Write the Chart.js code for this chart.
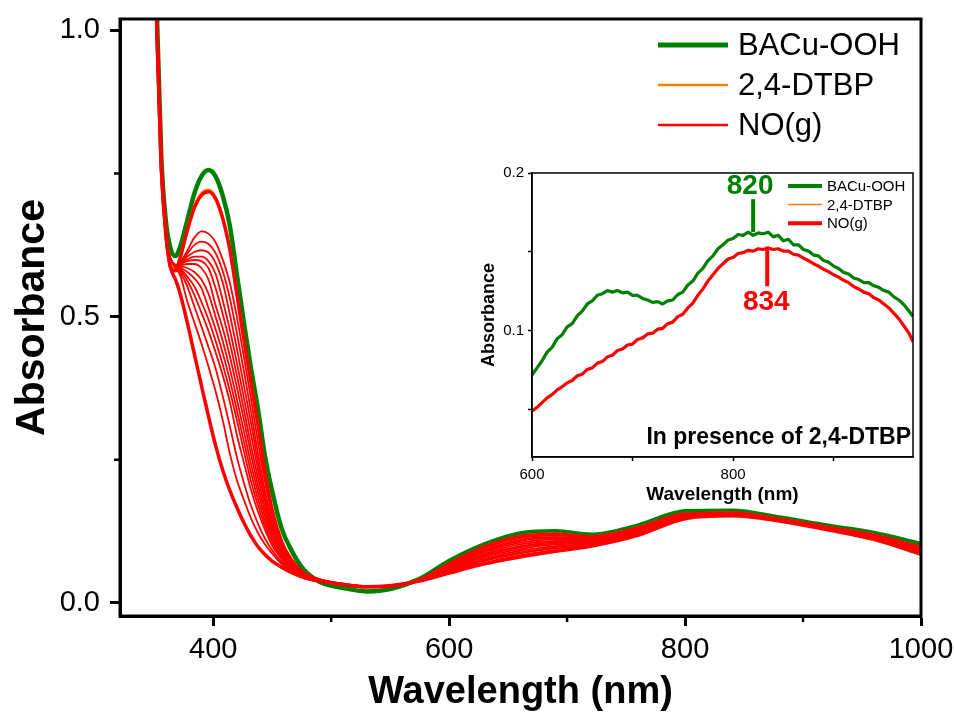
<!DOCTYPE html>
<html>
<head>
<meta charset="utf-8">
<script src="https://cdn.jsdelivr.net/npm/chart.js@4.4.1/dist/chart.umd.min.js"></script>
<style>
  html, body { margin: 0; padding: 0; background: #fff; }
  #wrap { position: relative; width: 954px; height: 713px; }
  #main { position: absolute; left: 0; top: 0; }
  #inset { position: absolute; left: 480px; top: 160px; }
</style>
</head>
<body>
<div id="wrap">
  <canvas id="main" width="954" height="713"></canvas>
  <canvas id="inset" width="440" height="350"></canvas>
</div>
<script>
// =====================================================
// DATA: main spectra (wavelength grid shared by all scans)
// =====================================================
const wavelengths = [348, 352, 356, 360, 364, 368, 372, 378, 384, 390, 396, 402, 408, 414, 420, 426, 432, 438, 444, 450,
                     458, 466, 476, 490, 510, 530, 550, 575, 600, 630, 660, 690, 720, 760, 800, 840, 880, 920, 960, 1000];

const bacuOOH = [1.36, 1.05, 0.78, 0.665, 0.618, 0.606, 0.622, 0.668, 0.715, 0.745, 0.756, 0.745, 0.712, 0.66, 0.575, 0.49, 0.41, 0.338, 0.255, 0.195,
                 0.13, 0.093, 0.06, 0.037, 0.026, 0.02, 0.024, 0.042, 0.073, 0.102, 0.121, 0.125, 0.119, 0.135, 0.160, 0.161, 0.149, 0.135, 0.122, 0.103];
const dtbp    = [1.34, 1.03, 0.767, 0.648, 0.59, 0.585, 0.607, 0.654, 0.694, 0.716, 0.722, 0.71, 0.676, 0.621, 0.543, 0.462, 0.387, 0.312, 0.23, 0.164,
                 0.108, 0.077, 0.054, 0.041, 0.032, 0.028, 0.029, 0.041, 0.069, 0.099, 0.117, 0.121, 0.116, 0.132, 0.156, 0.158, 0.147, 0.133, 0.119, 0.098];
const noFirst = [1.34, 1.03, 0.765, 0.645, 0.585, 0.58, 0.603, 0.65, 0.69, 0.712, 0.718, 0.706, 0.672, 0.618, 0.54, 0.46, 0.385, 0.31, 0.228, 0.162,
                 0.107, 0.076, 0.053, 0.04, 0.032, 0.028, 0.029, 0.04, 0.068, 0.098, 0.116, 0.12, 0.115, 0.131, 0.155, 0.157, 0.146, 0.132, 0.118, 0.097];
const no01 = [1.33, 1.02, 0.76, 0.64, 0.60, 0.59, 0.595, 0.615, 0.638, 0.649, 0.645, 0.63, 0.60, 0.56, 0.50, 0.43, 0.357, 0.28, 0.21, 0.155,
              0.105, 0.075, 0.054, 0.041, 0.033, 0.029, 0.03, 0.04, 0.067, 0.096, 0.113, 0.118, 0.114, 0.130, 0.154, 0.157, 0.146, 0.132, 0.117, 0.096];
const no02 = [1.33, 1.02, 0.76, 0.64, 0.60, 0.59, 0.594, 0.61, 0.625, 0.631, 0.627, 0.611, 0.58, 0.533, 0.472, 0.405, 0.335, 0.26, 0.195, 0.145,
              0.10, 0.072, 0.053, 0.041, 0.033, 0.029, 0.03, 0.04, 0.066, 0.093, 0.110, 0.115, 0.113, 0.129, 0.154, 0.156, 0.146, 0.131, 0.117, 0.095];
const no03 = [1.33, 1.02, 0.76, 0.64, 0.60, 0.59, 0.593, 0.605, 0.613, 0.616, 0.612, 0.594, 0.56, 0.505, 0.445, 0.38, 0.315, 0.245, 0.185, 0.138,
              0.097, 0.07, 0.052, 0.04, 0.033, 0.029, 0.03, 0.04, 0.064, 0.091, 0.108, 0.113, 0.111, 0.128, 0.153, 0.156, 0.145, 0.131, 0.116, 0.094];
const no04 = [1.33, 1.02, 0.76, 0.64, 0.60, 0.59, 0.592, 0.60, 0.605, 0.605, 0.597, 0.575, 0.529, 0.478, 0.42, 0.358, 0.295, 0.232, 0.176, 0.132,
              0.094, 0.069, 0.051, 0.04, 0.032, 0.029, 0.03, 0.04, 0.063, 0.089, 0.105, 0.111, 0.110, 0.127, 0.153, 0.155, 0.145, 0.131, 0.116, 0.093];
const no05 = [1.33, 1.02, 0.76, 0.64, 0.60, 0.59, 0.592, 0.597, 0.599, 0.597, 0.585, 0.55, 0.505, 0.455, 0.398, 0.338, 0.275, 0.218, 0.167, 0.127,
              0.091, 0.067, 0.05, 0.04, 0.032, 0.029, 0.03, 0.04, 0.062, 0.086, 0.102, 0.108, 0.109, 0.126, 0.152, 0.155, 0.145, 0.130, 0.115, 0.092];
const no06 = [1.33, 1.02, 0.76, 0.64, 0.60, 0.59, 0.59, 0.592, 0.592, 0.585, 0.565, 0.52, 0.48, 0.432, 0.377, 0.32, 0.26, 0.205, 0.158, 0.121,
              0.088, 0.065, 0.049, 0.039, 0.032, 0.029, 0.03, 0.04, 0.061, 0.084, 0.099, 0.106, 0.108, 0.125, 0.151, 0.155, 0.145, 0.130, 0.115, 0.091];
const no07 = [1.33, 1.02, 0.76, 0.64, 0.60, 0.59, 0.588, 0.585, 0.578, 0.565, 0.54, 0.50, 0.458, 0.41, 0.356, 0.30, 0.243, 0.193, 0.15, 0.116,
              0.085, 0.063, 0.048, 0.039, 0.032, 0.029, 0.03, 0.04, 0.059, 0.082, 0.097, 0.104, 0.106, 0.124, 0.151, 0.154, 0.144, 0.130, 0.114, 0.091];
const no08 = [1.33, 1.02, 0.76, 0.64, 0.60, 0.59, 0.586, 0.578, 0.567, 0.55, 0.515, 0.478, 0.437, 0.39, 0.337, 0.282, 0.228, 0.181, 0.142, 0.111,
              0.082, 0.062, 0.047, 0.039, 0.032, 0.029, 0.03, 0.039, 0.058, 0.080, 0.094, 0.102, 0.105, 0.123, 0.150, 0.154, 0.144, 0.130, 0.114, 0.090];
const no09 = [1.33, 1.02, 0.76, 0.64, 0.60, 0.59, 0.584, 0.57, 0.553, 0.526, 0.495, 0.458, 0.417, 0.371, 0.32, 0.265, 0.213, 0.17, 0.134, 0.105,
              0.079, 0.06, 0.046, 0.038, 0.032, 0.029, 0.03, 0.039, 0.057, 0.077, 0.091, 0.099, 0.104, 0.122, 0.149, 0.154, 0.144, 0.129, 0.113, 0.089];
const no10 = [1.33, 1.02, 0.76, 0.64, 0.60, 0.59, 0.582, 0.563, 0.538, 0.507, 0.475, 0.438, 0.398, 0.352, 0.294, 0.245, 0.198, 0.159, 0.127, 0.10,
              0.076, 0.058, 0.045, 0.038, 0.031, 0.028, 0.03, 0.039, 0.056, 0.075, 0.088, 0.097, 0.103, 0.121, 0.149, 0.153, 0.144, 0.129, 0.113, 0.088];
const no11 = [1.33, 1.02, 0.76, 0.64, 0.60, 0.59, 0.578, 0.553, 0.518, 0.483, 0.447, 0.41, 0.362, 0.31, 0.255, 0.21, 0.17, 0.138, 0.112, 0.092,
              0.071, 0.056, 0.044, 0.037, 0.031, 0.028, 0.03, 0.039, 0.054, 0.073, 0.086, 0.095, 0.101, 0.120, 0.148, 0.153, 0.143, 0.129, 0.112, 0.087];
const no12 = [1.33, 1.02, 0.76, 0.64, 0.60, 0.585, 0.572, 0.527, 0.49, 0.453, 0.413, 0.37, 0.32, 0.262, 0.215, 0.18, 0.148, 0.122, 0.102, 0.086,
              0.068, 0.055, 0.044, 0.037, 0.031, 0.028, 0.03, 0.038, 0.053, 0.070, 0.083, 0.092, 0.100, 0.119, 0.148, 0.152, 0.143, 0.128, 0.111, 0.086];
const noFinal = [1.33, 1.02, 0.76, 0.64, 0.585, 0.565, 0.54, 0.49, 0.435, 0.38, 0.326, 0.275, 0.232, 0.197, 0.167, 0.14, 0.117, 0.098, 0.084, 0.073,
                 0.062, 0.053, 0.045, 0.038, 0.032, 0.028, 0.03, 0.038, 0.052, 0.068, 0.080, 0.090, 0.099, 0.118, 0.147, 0.152, 0.143, 0.128, 0.111, 0.085];
const noScans = [no01, no02, no03, no04, no05, no06, no07, no08, no09, no10, no11, no12];

// main axis ticks
const xMajorTicks = [400, 600, 800, 1000];
const xMinorTicks = [500, 700, 900];
const yMajorTicks = [0, 0.5, 1.0];
const yMinorTicks = [0.25, 0.75];

// =====================================================
// DATA: inset (NIR region, with 2,4-DTBP)
// =====================================================
const insetWavelengths = [600, 605, 610, 615, 620, 625, 630, 635, 640, 645, 650, 655, 660, 665, 670, 675, 680, 685, 690, 695,
                          700, 705, 710, 715, 720, 725, 730, 735, 740, 745, 750, 755, 760, 765, 770, 775, 780, 785, 790, 795,
                          800, 805, 810, 815, 820, 825, 830, 835, 840, 845, 850, 855, 860, 865, 870, 875, 880, 885, 890, 895,
                          900, 905, 910, 915, 920, 925, 930, 935, 940, 945, 950, 955, 960, 965, 970, 975, 979];
const insetBacu = [0.072, 0.0765, 0.081, 0.0865, 0.0895, 0.095, 0.0975, 0.1025, 0.1045, 0.1095, 0.1125, 0.117, 0.119, 0.1225, 0.1235, 0.1255, 0.1245, 0.1255, 0.124, 0.1245,
                   0.1225, 0.1225, 0.1205, 0.1195, 0.118, 0.1185, 0.117, 0.119, 0.1195, 0.123, 0.1245, 0.129, 0.1315, 0.1365, 0.1395, 0.1445, 0.1475, 0.152, 0.1545, 0.1575,
                   0.1585, 0.161, 0.1605, 0.1625, 0.1605, 0.162, 0.1615, 0.1625, 0.1595, 0.1605, 0.157, 0.158, 0.1545, 0.1545, 0.1515, 0.1505, 0.148, 0.1475, 0.1445, 0.1435,
                   0.141, 0.1395, 0.137, 0.136, 0.1335, 0.1325, 0.1305, 0.1305, 0.1285, 0.1275, 0.1255, 0.1245, 0.1215, 0.1195, 0.1165, 0.1125, 0.109];
const insetNO   = [0.049, 0.0515, 0.0545, 0.0575, 0.0595, 0.0625, 0.0645, 0.067, 0.0685, 0.0715, 0.0725, 0.0755, 0.0765, 0.0795, 0.0805, 0.0835, 0.0845, 0.0875, 0.0885, 0.091,
                   0.0915, 0.0945, 0.0955, 0.098, 0.0985, 0.101, 0.1015, 0.1045, 0.1055, 0.109, 0.1105, 0.1145, 0.1175, 0.1225, 0.1265, 0.1315, 0.1355, 0.1395, 0.1425, 0.1455,
                   0.1465, 0.149, 0.1495, 0.151, 0.1505, 0.152, 0.1515, 0.1525, 0.1515, 0.152, 0.1505, 0.1505, 0.1485, 0.148, 0.146, 0.1445, 0.1425, 0.141, 0.139, 0.1375,
                   0.1355, 0.134, 0.132, 0.1305, 0.128, 0.1265, 0.1245, 0.1235, 0.121, 0.1195, 0.117, 0.1145, 0.111, 0.1075, 0.103, 0.0985, 0.093];
const insetXTicks = [600, 700, 800, 900];
const insetXLabels = [600, 800];
const insetYTicks = [0.05, 0.1, 0.15, 0.2];
const insetYLabels = [0.1, 0.2];
const peakBacu = 820;
const peakNO = 834;

const GREEN = '#008000';
const ORANGE = '#ff8000';
const RED = '#ff0000';
const FONT = "'Liberation Sans', Arial, sans-serif";

function toPoints(xs, vals) { return vals.map((v, i) => ({ x: xs[i], y: v })); }

// =====================================================
// MAIN CHART
// =====================================================
const mainSets = [];
mainSets.push({ label: 'BACu-OOH', data: toPoints(wavelengths, bacuOOH), borderColor: GREEN, borderWidth: 4.5, order: 3 });
mainSets.push({ label: '2,4-DTBP', data: toPoints(wavelengths, dtbp), borderColor: ORANGE, borderWidth: 2, order: 2 });
mainSets.push({ label: 'NO(g)', data: toPoints(wavelengths, noFirst), borderColor: RED, borderWidth: 3.5, order: 1 });
noScans.forEach(s => mainSets.push({ label: 'NO(g)', data: toPoints(wavelengths, s), borderColor: RED, borderWidth: 1.8, order: 1 }));
mainSets.push({ label: 'NO(g)', data: toPoints(wavelengths, noFinal), borderColor: RED, borderWidth: 3.5, order: 1 });

const mainDecor = {
    id: 'mainDecor',
    afterDraw(chart) {
        const ctx = chart.ctx, a = chart.chartArea;
        const xs = chart.scales.x, ys = chart.scales.y;
        ctx.save();
        ctx.strokeStyle = '#000';
        ctx.lineWidth = 3;
        ctx.strokeRect(a.left, a.top, a.right - a.left, a.bottom - a.top);
        // minor ticks
        ctx.lineWidth = 2.5;
        ctx.beginPath();
        xMinorTicks.forEach(v => { const px = xs.getPixelForValue(v); ctx.moveTo(px, a.bottom); ctx.lineTo(px, a.bottom + 6); });
        yMinorTicks.forEach(v => { const py = ys.getPixelForValue(v); ctx.moveTo(a.left, py); ctx.lineTo(a.left - 6, py); });
        ctx.stroke();
        // legend
        const rows = [['BACu-OOH', GREEN, 5], ['2,4-DTBP', ORANGE, 2.3], ['NO(g)', RED, 2.3]];
        ctx.font = '31px ' + FONT;
        ctx.textBaseline = 'middle';
        ctx.fillStyle = '#000';
        rows.forEach((r, i) => {
            const y = 45 + i * 40;
            ctx.strokeStyle = r[1];
            ctx.lineWidth = r[2];
            ctx.beginPath(); ctx.moveTo(658, y); ctx.lineTo(728, y); ctx.stroke();
            ctx.fillText(r[0], 738, y + 1);
        });
        ctx.restore();
    }
};

new Chart(document.getElementById('main'), {
    type: 'line',
    data: { datasets: mainSets },
    options: {
        responsive: false,
        animation: false,
        layout: { padding: { top: 19, right: 33, left: 0, bottom: 0 } },
        plugins: { legend: { display: false }, tooltip: { enabled: false } },
        elements: { point: { radius: 0 }, line: { cubicInterpolationMode: 'monotone', borderJoinStyle: 'round' } },
        scales: {
            x: {
                type: 'linear', min: 321, max: 1000,
                afterBuildTicks: s => { s.ticks = xMajorTicks.map(v => ({ value: v })); },
                afterFit: s => { s.height = 97; s.paddingLeft = 0; s.paddingRight = 0; },
                border: { display: true, color: '#000', width: 3 },
                grid: { drawOnChartArea: false, tickLength: 10, tickWidth: 3, tickColor: '#000' },
                ticks: { color: '#000', padding: 7, font: { family: FONT, size: 29 }, callback: v => String(v) },
                title: { display: true, text: 'Wavelength (nm)', color: '#000', font: { family: FONT, size: 38, weight: 'bold', lineHeight: 1 }, padding: { top: 0, bottom: 1 } }
            },
            y: {
                type: 'linear', min: -0.023, max: 1.02,
                afterBuildTicks: s => { s.ticks = yMajorTicks.map(v => ({ value: v })); },
                afterFit: s => { s.width = 120; s.paddingTop = 0; s.paddingBottom = 0; },
                border: { display: true, color: '#000', width: 3 },
                grid: { drawOnChartArea: false, tickLength: 10, tickWidth: 3, tickColor: '#000' },
                ticks: { color: '#000', padding: 10, font: { family: FONT, size: 29 }, callback: v => v.toFixed(1) },
                title: { display: true, text: 'Absorbance', color: '#000', font: { family: FONT, size: 41, weight: 'bold', lineHeight: 1 }, padding: { top: 12, bottom: 0 } }
            }
        }
    },
    plugins: [mainDecor]
});

// =====================================================
// INSET CHART
// =====================================================
const insetDecor = {
    id: 'insetDecor',
    afterDraw(chart) {
        const ctx = chart.ctx, a = chart.chartArea;
        const xs = chart.scales.x, ys = chart.scales.y;
        ctx.save();
        ctx.strokeStyle = '#000';
        ctx.lineWidth = 1.5;
        ctx.strokeRect(a.left, a.top, a.right - a.left, a.bottom - a.top);
        // peak markers
        const gx = xs.getPixelForValue(peakBacu), rx = xs.getPixelForValue(peakNO);
        ctx.lineWidth = 4;
        ctx.strokeStyle = GREEN;
        ctx.beginPath(); ctx.moveTo(gx, ys.getPixelForValue(0.1834)); ctx.lineTo(gx, ys.getPixelForValue(0.1626)); ctx.stroke();
        ctx.strokeStyle = RED;
        ctx.beginPath(); ctx.moveTo(rx, ys.getPixelForValue(0.1533)); ctx.lineTo(rx, ys.getPixelForValue(0.1282)); ctx.stroke();
        ctx.font = 'bold 28px ' + FONT;
        ctx.textAlign = 'center';
        ctx.textBaseline = 'middle';
        ctx.fillStyle = GREEN;
        ctx.fillText(String(peakBacu), gx - 3, ys.getPixelForValue(0.1925) + 1);
        ctx.fillStyle = RED;
        ctx.fillText(String(peakNO), rx - 1, ys.getPixelForValue(0.1188) + 1);
        // note
        ctx.font = 'bold 23px ' + FONT;
        ctx.textAlign = 'right';
        ctx.fillStyle = '#000';
        ctx.fillText('In presence of 2,4-DTBP', a.right - 2, a.bottom - 19);
        // legend
        const rows = [['BACu-OOH', GREEN, 4], ['2,4-DTBP', ORANGE, 1.5], ['NO(g)', RED, 4]];
        ctx.font = '15px ' + FONT;
        ctx.textAlign = 'left';
        rows.forEach((r, i) => {
            const y = 26 + i * 18.6;
            ctx.strokeStyle = r[1];
            ctx.lineWidth = r[2];
            ctx.beginPath(); ctx.moveTo(308, y); ctx.lineTo(342, y); ctx.stroke();
            ctx.fillText(r[0], 347, y + 1);
        });
        ctx.restore();
    }
};

new Chart(document.getElementById('inset'), {
    type: 'line',
    data: {
        datasets: [
            { label: 'BACu-OOH', data: toPoints(insetWavelengths, insetBacu), borderColor: GREEN, borderWidth: 3.2 },
            { label: 'NO(g)', data: toPoints(insetWavelengths, insetNO), borderColor: RED, borderWidth: 3.2 }
        ]
    },
    options: {
        responsive: false,
        animation: false,
        layout: { padding: { top: 13, right: 7, left: 0, bottom: 0 } },
        plugins: { legend: { display: false }, tooltip: { enabled: false } },
        elements: { point: { radius: 0 }, line: { tension: 0, borderJoinStyle: 'round' } },
        scales: {
            x: {
                type: 'linear', min: 600, max: 979,
                afterBuildTicks: s => { s.ticks = insetXTicks.map(v => ({ value: v })); },
                afterFit: s => { s.height = 53; s.paddingLeft = 0; s.paddingRight = 0; },
                border: { display: true, color: '#000', width: 1.5 },
                grid: { drawOnChartArea: false, tickLength: 4, tickWidth: 1.5, tickColor: '#000' },
                ticks: { color: '#000', padding: 5, font: { family: FONT, size: 15 }, callback: v => insetXLabels.includes(v) ? String(v) : '' },
                title: { display: true, text: 'Wavelength (nm)', color: '#000', font: { family: FONT, size: 19, weight: 'bold', lineHeight: 1 }, padding: { top: 0, bottom: 6 } }
            },
            y: {
                type: 'linear', min: 0.02, max: 0.2,
                afterBuildTicks: s => { s.ticks = insetYTicks.map(v => ({ value: v })); },
                afterFit: s => { s.width = 52; s.paddingTop = 0; s.paddingBottom = 0; },
                border: { display: true, color: '#000', width: 1.5 },
                grid: { drawOnChartArea: false, tickLength: 4, tickWidth: 1.5, tickColor: '#000' },
                ticks: { color: '#000', padding: 4, font: { family: FONT, size: 15 }, callback: v => insetYLabels.includes(v) ? v.toFixed(1) : '' },
                title: { display: true, text: 'Absorbance', color: '#000', font: { family: FONT, size: 18, weight: 'bold', lineHeight: 1 }, padding: { top: 0, bottom: 0 } }
            }
        }
    },
    plugins: [insetDecor]
});
</script>
</body>
</html>
